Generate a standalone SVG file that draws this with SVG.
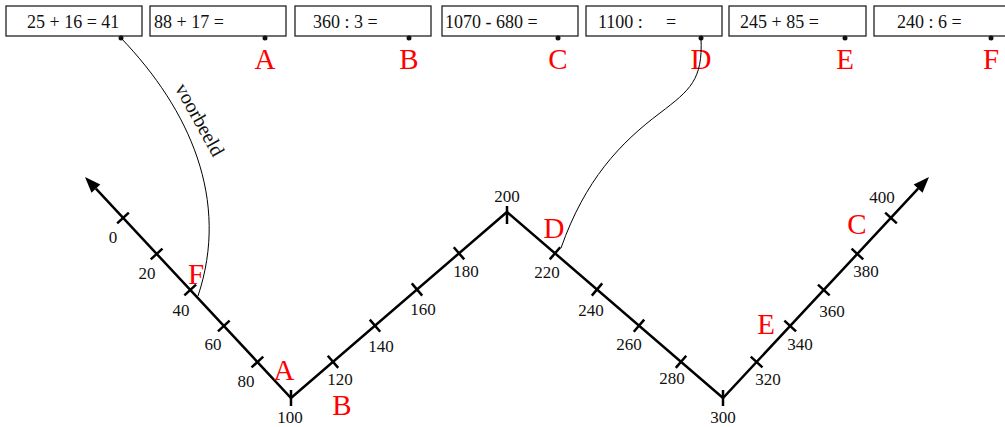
<svg xmlns="http://www.w3.org/2000/svg" width="1005" height="427" viewBox="0 0 1005 427">
<style>
  .box { fill: #fff; stroke: #222; stroke-width: 1.3; }
  .eq { font-family: "Liberation Serif", serif; font-size: 18px; fill: #111; }
  .dot { fill: #111; }
  .red { font-family: "Liberation Serif", serif; font-size: 29px; fill: #ff0000; text-anchor: middle; }
  .num { font-family: "Liberation Serif", serif; font-size: 17px; fill: #111; text-anchor: middle; }
  .axis { fill: none; stroke: #000; stroke-width: 2.5; stroke-linejoin: miter; }
  .tick { stroke: #000; stroke-width: 2.5; }
  .conn { fill: none; stroke: #000; stroke-width: 1; }
  .lbl { font-family: "Liberation Serif", serif; font-size: 20px; fill: #111; text-anchor: middle; }
</style>

<g id="box-1"><rect class="box" x="6" y="6" width="136" height="30"/><text class="eq" x="27" y="28">25 + 16 = 41</text><circle class="dot" cx="121" cy="38" r="2.5"/></g>
<g id="box-2"><rect class="box" x="150" y="6" width="136" height="30"/><text class="eq" x="154" y="28">88 + 17 =</text><circle class="dot" cx="265" cy="38" r="2.5"/><text class="red" x="265" y="69">A</text></g>
<g id="box-3"><rect class="box" x="295" y="6" width="136" height="30"/><text class="eq" x="313" y="28">360 : 3 =</text><circle class="dot" cx="409" cy="38" r="2.5"/><text class="red" x="409" y="69">B</text></g>
<g id="box-4"><rect class="box" x="442" y="6" width="136" height="30"/><text class="eq" x="445" y="28">1070 - 680 =</text><circle class="dot" cx="558" cy="38" r="2.5"/><text class="red" x="558" y="69">C</text></g>
<g id="box-5"><rect class="box" x="586" y="6" width="136" height="30"/><text class="eq" x="598" y="28">1100 :<tspan x="666">=</tspan></text><circle class="dot" cx="701" cy="38" r="2.5"/><text class="red" x="701" y="69">D</text></g>
<g id="box-6"><rect class="box" x="729" y="6" width="137" height="30"/><text class="eq" x="740" y="28">245 + 85 =</text><circle class="dot" cx="845" cy="38" r="2.5"/><text class="red" x="845" y="69">E</text></g>
<g id="box-7"><rect class="box" x="874" y="6" width="136" height="30"/><text class="eq" x="897" y="28">240 : 6 =</text><circle class="dot" cx="991" cy="38" r="2.5"/><text class="red" x="991" y="69">F</text></g>

<g id="number-line">
  <polyline class="axis" points="95.9,188.7 291,398 507,212 723,398 918.1,188.7"/>
  <polygon points="85,177 100.3,184.6 91.5,192.8" fill="#000"/>
  <polygon points="929,177 922.5,192.8 913.7,184.6" fill="#000"/>
  <g id="ticks">
    <line class="tick" x1="117.15" y1="223.46" x2="128.85" y2="212.54"/>
    <line class="tick" x1="150.75" y1="259.46" x2="162.45" y2="248.54"/>
    <line class="tick" x1="184.35" y1="295.46" x2="196.05" y2="284.54"/>
    <line class="tick" x1="217.95" y1="331.46" x2="229.65" y2="320.54"/>
    <line class="tick" x1="251.55" y1="367.46" x2="263.25" y2="356.54"/>
    <line class="tick" x1="291" y1="390" x2="291" y2="406"/>
    <line class="tick" x1="327.78" y1="355.74" x2="338.22" y2="367.86"/>
    <line class="tick" x1="369.78" y1="319.64" x2="380.22" y2="331.76"/>
    <line class="tick" x1="411.78" y1="283.44" x2="422.22" y2="295.56"/>
    <line class="tick" x1="453.78" y1="247.24" x2="464.22" y2="259.36"/>
    <line class="tick" x1="507" y1="206" x2="507" y2="224"/>
    <line class="tick" x1="549.78" y1="259.36" x2="560.22" y2="247.24"/>
    <line class="tick" x1="591.78" y1="295.56" x2="602.22" y2="283.44"/>
    <line class="tick" x1="633.78" y1="331.76" x2="644.22" y2="319.64"/>
    <line class="tick" x1="675.78" y1="367.86" x2="686.22" y2="355.74"/>
    <line class="tick" x1="723" y1="390" x2="723" y2="406"/>
    <line class="tick" x1="750.75" y1="356.54" x2="762.45" y2="367.46"/>
    <line class="tick" x1="784.35" y1="320.54" x2="796.05" y2="331.46"/>
    <line class="tick" x1="817.95" y1="284.54" x2="829.65" y2="295.46"/>
    <line class="tick" x1="851.55" y1="248.54" x2="863.25" y2="259.46"/>
    <line class="tick" x1="885.15" y1="212.54" x2="896.85" y2="223.46"/>
  </g>
  <g id="tick-labels">
    <text class="num" x="113" y="243">0</text>
    <text class="num" x="147" y="279">20</text>
    <text class="num" x="181" y="316">40</text>
    <text class="num" x="213" y="350">60</text>
    <text class="num" x="246" y="387">80</text>
    <text class="num" x="290" y="423">100</text>
    <text class="num" x="340" y="385">120</text>
    <text class="num" x="381" y="352">140</text>
    <text class="num" x="423" y="315">160</text>
    <text class="num" x="466" y="277">180</text>
    <text class="num" x="507" y="202">200</text>
    <text class="num" x="547" y="278">220</text>
    <text class="num" x="591" y="316">240</text>
    <text class="num" x="629" y="350">260</text>
    <text class="num" x="672" y="384">280</text>
    <text class="num" x="723" y="423">300</text>
    <text class="num" x="768" y="385">320</text>
    <text class="num" x="800" y="350">340</text>
    <text class="num" x="832" y="317">360</text>
    <text class="num" x="866" y="277">380</text>
    <text class="num" x="882" y="203">400</text>
  </g>
  <g id="answer-marks">
    <text class="red" x="196" y="284">F</text>
    <text class="red" x="284" y="380">A</text>
    <text class="red" x="342" y="415">B</text>
    <text class="red" x="554" y="238">D</text>
    <text class="red" x="857" y="234">C</text>
    <text class="red" x="766" y="334">E</text>
  </g>
</g>

<g id="connectors">
  <path class="conn" d="M121,38 C190,110 230,200 198,296"/>
  <text class="lbl" transform="translate(194,123) rotate(61)">voorbeeld</text>
  <path class="conn" d="M701,38 C703,80 690,90 660,113 C620,143 585,180 561,248"/>
</g>
</svg>
